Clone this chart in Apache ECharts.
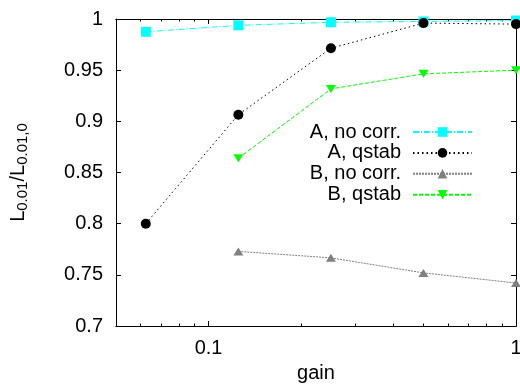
<!DOCTYPE html>
<html>
<head>
<meta charset="utf-8">
<script src="https://cdn.jsdelivr.net/npm/echarts@6/dist/echarts.min.js"></script>
<style>
html,body{margin:0;padding:0;background:#fff;}
#main{width:520px;height:389px;}
</style>
</head>
<body>
<div id="main"></div>
<script>
// ---- data ----
var gains = [0.0625, 0.125, 0.25, 0.5, 1];
var aNoCorr = [0.9875, 0.9938, 0.9968, 0.9976, 0.9985];
var aQstab  = [0.800, 0.9065, 0.9714, 0.996, 0.995];
var bNoCorr = [null, 0.7729, 0.7666, 0.7519, 0.742];
var bQstab  = [null, 0.8640, 0.9317, 0.9464, 0.950];
var seriesNames = ['A, no corr.', 'A, qstab', 'B, no corr.', 'B, qstab'];
var xMajorTicks = [0.1, 1];
var xMinorTicks = [0.06, 0.07, 0.08, 0.09, 0.2, 0.3, 0.4, 0.5, 0.6, 0.7, 0.8, 0.9];
var yMin = 0.7, yMax = 1, yStep = 0.05;
var xMin = 0.05, xMax = 1;

function pairs(vals) {
  var out = [];
  for (var i = 0; i < gains.length; i++) {
    if (vals[i] !== null) out.push([gains[i], vals[i]]);
  }
  return out;
}

var FONT = 'Liberation Sans, Arial, Helvetica, sans-serif';
var FS = 20;

function xAx(pos, ticks, len, withLabels) {
  var a = {
    type: 'log', logBase: 10, min: xMin, max: xMax, position: pos, gridIndex: 0,
    axisLine: { show: true, lineStyle: { color: '#000', width: 1 } },
    axisTick: { show: true, inside: true, length: len, customValues: ticks, lineStyle: { color: '#000', width: 1 } },
    axisLabel: { show: false },
    splitLine: { show: false },
    minorTick: { show: false }
  };
  if (withLabels) {
    a.axisLabel = { show: true, customValues: xMajorTicks, color: '#000', fontSize: FS, fontFamily: FONT, margin: 12 };
    a.name = 'gain';
    a.nameLocation = 'middle';
    a.nameGap = 37;
    a.nameTextStyle = { color: '#000', fontSize: FS, fontFamily: FONT };
  }
  return a;
}

function yAx(pos, withLabels) {
  var a = {
    type: 'value', min: yMin, max: yMax, interval: yStep, position: pos, gridIndex: 0,
    axisLine: { show: true, lineStyle: { color: '#000', width: 1 } },
    axisTick: { show: true, inside: true, length: 5, lineStyle: { color: '#000', width: 1 } },
    axisLabel: { show: withLabels, color: '#000', fontSize: FS, fontFamily: FONT, margin: 13 },
    splitLine: { show: false }
  };
  if (withLabels) {
    a.name = '{a|L}{b|0.01}{a|/L}{b|0.01,0}';
    a.nameLocation = 'middle';
    a.nameRotate = 90;
    a.nameGap = 86;
    a.nameTextStyle = {
      color: '#000',
      rich: {
        a: { fontSize: FS, fontFamily: FONT, lineHeight: 24, color: '#000' },
        b: { fontSize: 15, fontFamily: FONT, lineHeight: 18, verticalAlign: 'bottom', color: '#000' }
      }
    };
  }
  return a;
}

var chart = echarts.init(document.getElementById('main'), null, { renderer: 'canvas' });
chart.setOption({
  backgroundColor: '#fff',
  animation: false,
  grid: { left: 116, right: 4, top: 19, bottom: 63, containLabel: false, outerBoundsMode: 'none' },
  xAxis: [
    xAx('bottom', xMajorTicks, 5, true),
    xAx('bottom', xMinorTicks, 2.5, false),
    xAx('top', xMajorTicks, 5, false),
    xAx('top', xMinorTicks, 2.5, false)
  ],
  yAxis: [yAx('left', true), yAx('right', false)],
  legend: {
    orient: 'vertical', align: 'right', right: 47, top: 122, padding: 0,
    itemWidth: 59, itemHeight: 12, itemGap: 0.9,
    data: seriesNames,
    textStyle: { color: '#000', fontSize: FS, fontFamily: FONT, lineHeight: 20, padding: [0, 7, 0, 0] }
  },
  series: [
    {
      name: seriesNames[0], type: 'line', data: pairs(aNoCorr), clip: false,
      symbol: 'rect', symbolSize: 10, showAllSymbol: true,
      lineStyle: { color: '#00ffff', width: 1, type: [6, 2, 1, 2] },
      itemStyle: { color: '#00ffff' }
    },
    {
      name: seriesNames[1], type: 'line', data: pairs(aQstab), clip: false,
      symbol: 'circle', symbolSize: 10, showAllSymbol: true,
      lineStyle: { color: '#000000', width: 1, type: [1.5, 3] },
      itemStyle: { color: '#000000' }
    },
    {
      name: seriesNames[2], type: 'line', data: pairs(bNoCorr), clip: false,
      symbol: 'triangle', symbolSize: [10, 8], showAllSymbol: true,
      lineStyle: { color: '#808080', width: 1, type: [2, 1] },
      itemStyle: { color: '#808080' }
    },
    {
      name: seriesNames[3], type: 'line', data: pairs(bQstab), clip: false,
      symbol: 'triangle', symbolRotate: 180, symbolSize: [10, 8], showAllSymbol: true,
      lineStyle: { color: '#00ff00', width: 1, type: [4, 2] },
      itemStyle: { color: '#00ff00' }
    }
  ]
});
</script>
</body>
</html>
